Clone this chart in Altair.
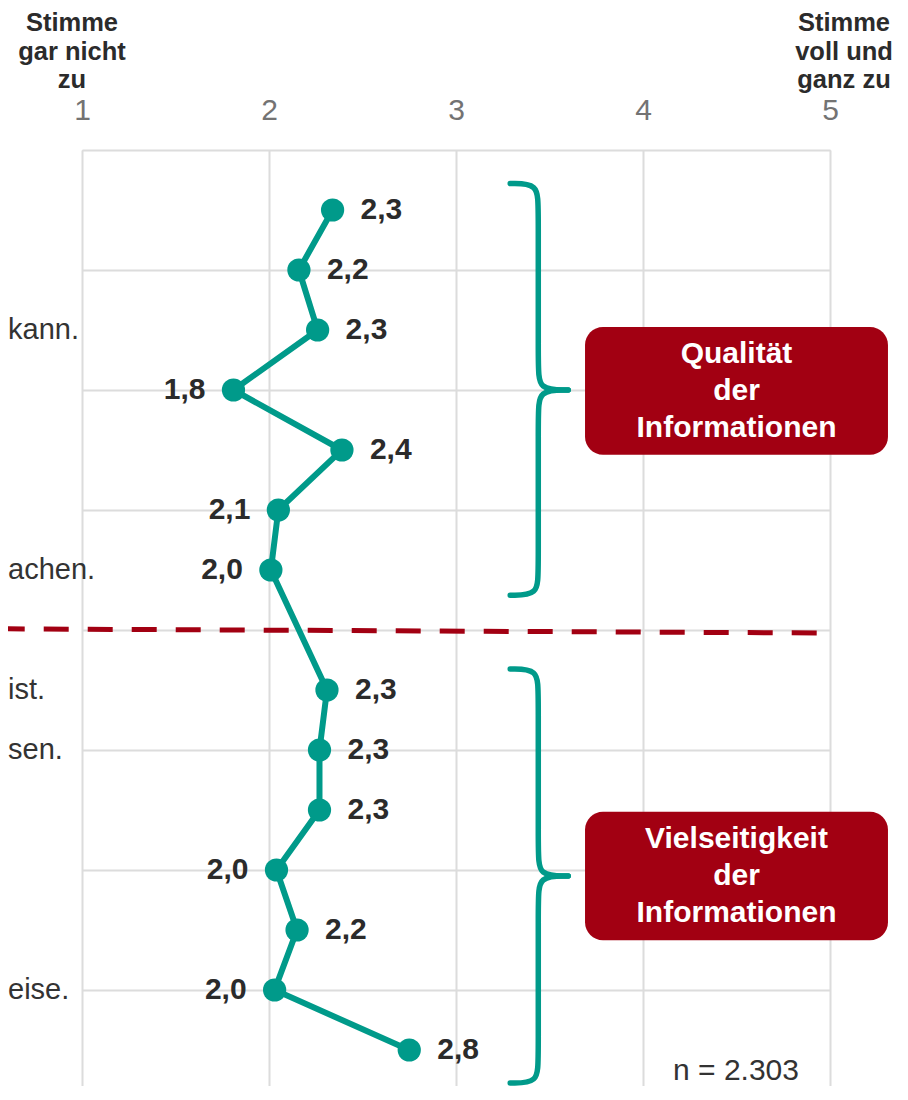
import altair as alt
import pandas as pd

# ---- data ----
rows = [0, 1, 2, 3, 4, 5, 6, 8, 9, 10, 11, 12, 13, 14]
values = [2.34, 2.16, 2.26, 1.81, 2.39, 2.05, 2.01, 2.31, 2.27, 2.27, 2.04, 2.15, 2.03, 2.75]
value_labels = ["2,3", "2,2", "2,3", "1,8", "2,4", "2,1", "2,0",
                "2,3", "2,3", "2,3", "2,0", "2,2", "2,0", "2,8"]
left_labelled = [3, 5, 6, 10, 12]          # indices whose value label sits left of the dot

item_rows = [2, 6, 8, 9, 13]
item_texts = ["kann.", "achen.", "ist.", "sen.", "eise."]

group_names = ["Qualität\nder\nInformationen", "Vielseitigkeit\nder\nInformationen"]
group_top = [-0.44, 7.65]
group_mid = [3.0, 11.1]
group_bottom = [6.42, 14.55]
box_top = [1.95, 10.03]
box_bottom = [4.08, 12.17]
box_left = 3.69
box_right = 5.31

divider_row = [6.98, 7.05]
divider_x = [0.56, 4.96]

x_ticks = [1, 2, 3, 4, 5]
y_grid = [-1, 1, 3, 5, 7, 9, 11, 13]

TEAL = "#009a8a"
RED = "#a20012"
TEXT = "#2b2b2b"
FONT = "Liberation Sans"

# ---- tables ----
df_pts = pd.DataFrame({
    "row": rows, "value": values, "label": value_labels,
    "side": ["left" if i in left_labelled else "right" for i in range(len(rows))],
})
df_items = pd.DataFrame({"row": item_rows, "text": item_texts})

brace_rows = []
for g in range(len(group_names)):
    xb, xs, xt = 3.29, 3.44, 3.60
    yt, ym, yb = group_top[g], group_mid[g], group_bottom[g]
    half1 = [(xb, yt), (xs, yt), (xs, yt + 0.4), (xs, ym - 0.4), (xs, ym), (xt, ym)]
    half2 = [(xt, ym), (xs, ym), (xs, ym + 0.4), (xs, yb - 0.4), (xs, yb), (xb, yb)]
    for h, pts in enumerate([half1, half2]):
        for i, (bx, by) in enumerate(pts):
            brace_rows.append({"x": bx, "y": by, "part": f"{g}-{h}", "i": i})
df_brace = pd.DataFrame(brace_rows)

df_box = pd.DataFrame({
    "x": [box_left] * 2, "x2": [box_right] * 2,
    "y": box_top, "y2": box_bottom,
    "xm": [(box_left + box_right) / 2] * 2,
    "ym": [(a + b) / 2 for a, b in zip(box_top, box_bottom)],
    "text": group_names,
})
df_div = pd.DataFrame({"x": [divider_x[0]], "x2": [divider_x[1]],
                       "y": [divider_row[0]], "y2": [divider_row[1]]})

# ---- scales / axes ----
xs = alt.Scale(domain=[1, 5], nice=False, zero=False)
ys = alt.Scale(domain=[-1, 14.6], nice=False, zero=False, reverse=True)
x_axis = alt.Axis(orient="top", values=x_ticks, format="d", title=None,
                  labelFontSize=30, labelColor="#737373", labelFont=FONT,
                  labelPadding=25, labelFlush=False, ticks=False, tickSize=0,
                  domain=False, grid=True, gridColor="#dcdcdc", gridWidth=2)
y_axis = alt.Axis(values=y_grid, title=None, labels=False, ticks=False,
                  domain=False, grid=True, gridColor="#dcdcdc", gridWidth=2)


def X(f):
    return alt.X(f, type="quantitative", scale=xs, axis=x_axis)


def Y(f):
    return alt.Y(f, type="quantitative", scale=ys, axis=y_axis)


divider = alt.Chart(df_div).mark_rule(
    color=RED, strokeWidth=5, strokeDash=[25, 19]
).encode(x=X("x"), x2="x2", y=Y("y"), y2="y2")

braces = alt.Chart(df_brace).mark_line(
    color=TEAL, strokeWidth=5.5, interpolate="basis", strokeCap="round"
).encode(x=X("x"), y=Y("y"), detail="part:N", order="i:Q")

boxes = alt.Chart(df_box).mark_rect(color=RED, cornerRadius=18).encode(
    x=X("x"), x2="x2", y=Y("y"), y2="y2")

box_text = alt.Chart(df_box).mark_text(
    color="white", fontSize=30, fontWeight="bold", font=FONT,
    lineBreak="\n", lineHeight=37, align="center", baseline="middle", dy=-37
).encode(x=X("xm"), y=Y("ym"), text="text:N")

line = alt.Chart(df_pts).mark_line(color=TEAL, strokeWidth=6).encode(
    x=X("value"), y=Y("row"), order="row:Q")

points = alt.Chart(df_pts).mark_circle(color=TEAL, opacity=1, size=540).encode(
    x=X("value"), y=Y("row"))

lab_right = alt.Chart(df_pts).transform_filter("datum.side == 'right'").mark_text(
    align="left", baseline="middle", dx=28, fontSize=30, fontWeight="bold",
    font=FONT, color=TEXT
).encode(x=X("value"), y=Y("row"), text="label:N")

lab_left = alt.Chart(df_pts).transform_filter("datum.side == 'left'").mark_text(
    align="right", baseline="middle", dx=-28, fontSize=30, fontWeight="bold",
    font=FONT, color=TEXT
).encode(x=X("value"), y=Y("row"), text="label:N")

items = alt.Chart(df_items).mark_text(
    align="left", baseline="middle", fontSize=29, font=FONT, color="#333333"
).encode(x=alt.value(-74), y=Y("row"), text="text:N")

head_left = alt.Chart(pd.DataFrame({"t": ["Stimme\ngar nicht\nzu"]})).mark_text(
    align="center", baseline="alphabetic", fontSize=25.5, fontWeight="bold",
    font=FONT, color=TEXT, lineBreak="\n", lineHeight=28.5
).encode(x=alt.value(-10), y=alt.value(-119), text="t:N")

head_right = alt.Chart(pd.DataFrame({"t": ["Stimme\nvoll und\nganz zu"]})).mark_text(
    align="center", baseline="alphabetic", fontSize=25.5, fontWeight="bold",
    font=FONT, color=TEXT, lineBreak="\n", lineHeight=28.5
).encode(x=alt.value(762), y=alt.value(-119), text="t:N")

n_text = alt.Chart(pd.DataFrame({"t": ["n = 2.303"]})).mark_text(
    align="center", baseline="middle", fontSize=30, font=FONT, color="#333333"
).encode(x=alt.value(654), y=alt.value(921), text="t:N")

chart = alt.layer(
    divider, braces, boxes, box_text, line, points,
    lab_right, lab_left, items, head_left, head_right, n_text
).properties(
    width=748, height=936,
    autosize=alt.AutoSizeParams(type="none"),
    padding={"left": 74, "top": 142, "right": 68, "bottom": 0},
).configure_view(stroke=None).configure(font=FONT)

chart.save("out.html", embed_options={"renderer": "svg", "actions": False})
